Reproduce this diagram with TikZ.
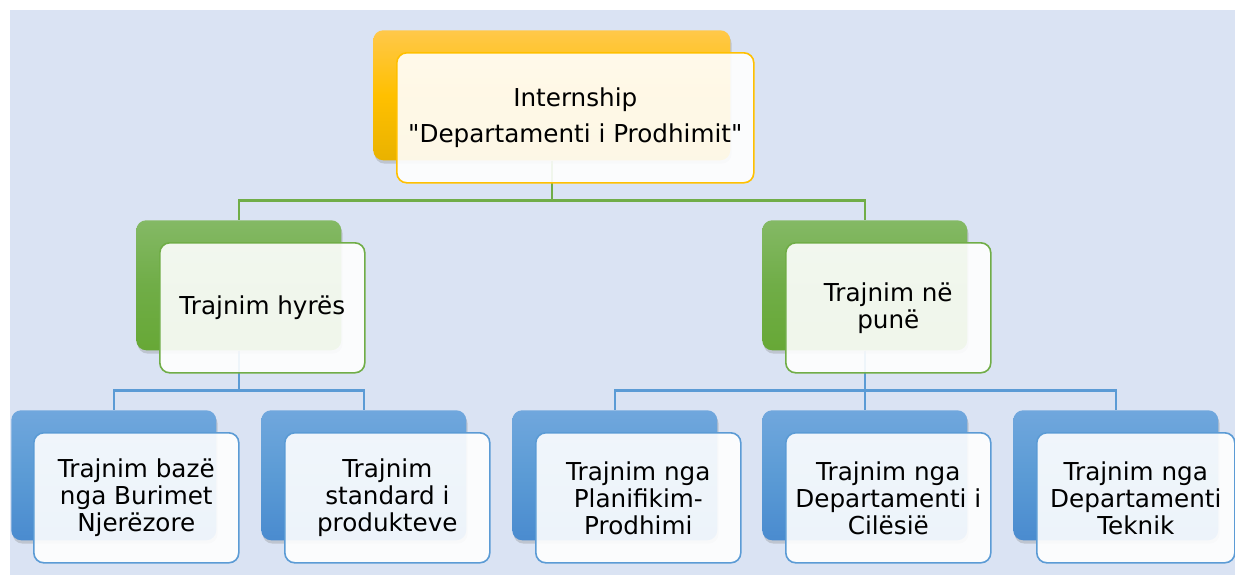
\documentclass[tikz,border=0pt]{standalone}
\usepackage{fontspec}
\setmainfont{DejaVu Sans}[Ligatures=TeXOff]
\usetikzlibrary{shadows}
\pgfdeclarelayer{bgl}
\pgfdeclarelayer{lines}
\pgfsetlayers{bgl,lines,main}
\definecolor{bgblue}{HTML}{DAE3F3}
\definecolor{yel}{HTML}{FFC000}
\definecolor{yeltop}{HTML}{FFC84A}
\definecolor{yelbot}{HTML}{E9B200}
\definecolor{grn}{HTML}{70AD47}
\definecolor{grntop}{HTML}{84B965}
\definecolor{grnbot}{HTML}{67A836}
\definecolor{blu}{HTML}{5B9BD5}
\definecolor{blutop}{HTML}{70A7DD}
\definecolor{blubot}{HTML}{4A8BCF}
\begin{document}
\begin{tikzpicture}[x=0.75pt,y=-0.75pt,
  backbox/.style={rounded corners=7.5pt, inner sep=0pt, anchor=north west,
    minimum width=153.75pt, minimum height=97.5pt,
    drop shadow={opacity=0.3, shadow xshift=1pt, shadow yshift=-2.5pt}},
  yback/.style={backbox, top color=yeltop, bottom color=yelbot, middle color=yel},
  gback/.style={backbox, top color=grntop, bottom color=grnbot, middle color=grn},
  bback/.style={backbox, top color=blutop, bottom color=blubot, middle color=blu},
  frontbox/.style={rounded corners=7.5pt, inner sep=0pt, anchor=north west,
    minimum width=153.75pt, minimum height=97.5pt, fill=white, fill opacity=0.9,
    text opacity=1, line width=1.2pt, align=center, text=black,
    font=\fontsize{18.5pt}{20.25pt}\selectfont},
  yfront/.style={frontbox, draw=yel},
  gfront/.style={frontbox, draw=grn},
  bfront/.style={frontbox, draw=blu},
  gline/.style={draw=grn, line width=1.9pt},
  bline/.style={draw=blu, line width=1.9pt}]
\useasboundingbox (0,0) rectangle (1235,575);
\begin{pgfonlayer}{bgl}
\fill[bgblue] (10,10) rectangle (1235,575);
\end{pgfonlayer}
% back boxes
\node[yback, minimum width=267.75pt] (tb) at (373,30) {};
\node[gback] (lgb) at (136,220) {};
\node[gback] (rgb) at (762,220) {};
\node[bback] (b1b) at (11,410) {};
\node[bback] (b2b) at (261,410) {};
\node[bback] (b3b) at (512,410) {};
\node[bback] (b4b) at (762,410) {};
\node[bback] (b5b) at (1013,410) {};
% front boxes
\node[yfront, minimum width=267.75pt] (tf) at (396,52) {Internship\\[6.75pt]"Departamenti i Prodhimit"};
\node[gfront] (lgf) at (159,242) {Trajnim hyrës};
\node[gfront] (rgf) at (785,242) {Trajnim në\\punë};
\node[bfront] (b1f) at (33,432) {Trajnim bazë\\nga Burimet\\Njerëzore};
\node[bfront] (b2f) at (284,432) {Trajnim\\standard i\\produkteve};
\node[bfront] (b3f) at (535,432) {Trajnim nga\\Planifikim-\\Prodhimi};
\node[bfront] (b4f) at (785,432) {Trajnim nga\\Departamenti i\\Cilësië};
\node[bfront, minimum width=148.5pt] (b5f) at (1036,432) {Trajnim nga\\Departamenti\\Teknik};
% connectors
\begin{pgfonlayer}{lines}
\draw[gline] (tb.south) -- ++(0,40) -| (lgb.north);
\draw[gline] (tb.south) -- ++(0,40) -| (rgb.north);
\draw[bline] (lgb.south) -- ++(0,40) -| (b1b.north);
\draw[bline] (lgb.south) -- ++(0,40) -| (b2b.north);
\draw[bline] (rgb.south) -- ++(0,40) -| (b3b.north);
\draw[bline] (rgb.south) -- ++(0,40) -| (b4b.north);
\draw[bline] (rgb.south) -- ++(0,40) -| (b5b.north);
\end{pgfonlayer}
\end{tikzpicture}
\end{document}
